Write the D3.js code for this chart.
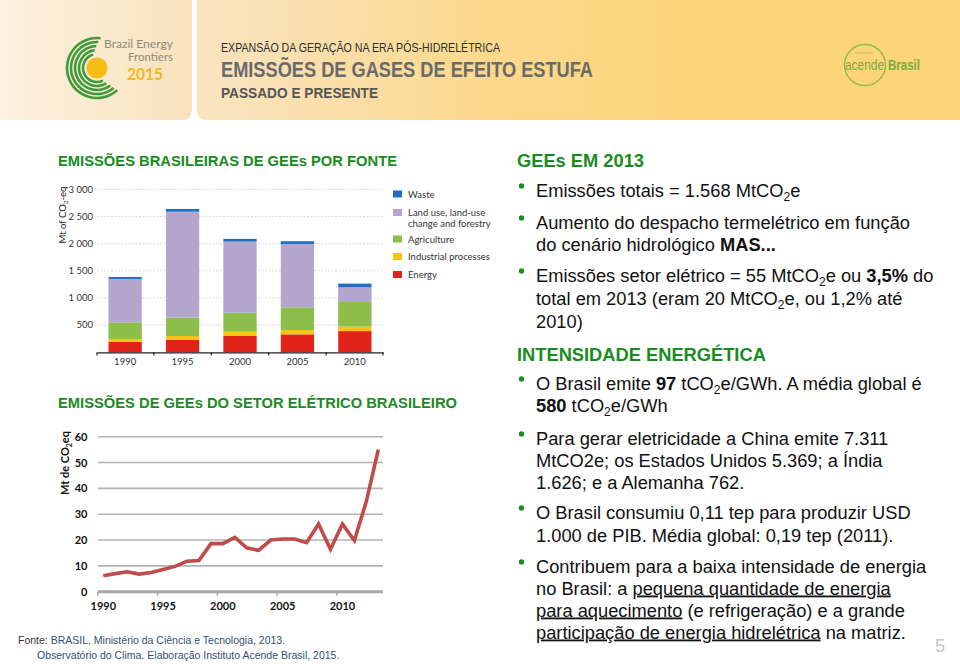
<!DOCTYPE html>
<html><head><meta charset="utf-8">
<script src="https://cdn.jsdelivr.net/npm/d3@7"></script>
<style>
html,body{margin:0;padding:0;background:#fff;}
svg{display:block;}
</style></head><body>
<svg id="slide" width="960" height="664"></svg>
<script>
// ---------- DATA ----------
const barYears = ["1990", "1995", "2000", "2005", "2010"];
const sectorKeys = ["energy", "industrial", "agriculture", "landUse", "waste"];
const sectorLabels = ["Energy", "Industrial processes", "Agriculture", "Land use, land-use|change and forestry", "Waste"];
const energy      = [195, 230, 300, 330, 390];
const industrial  = [50, 70, 80, 80, 82];
const agriculture = [307, 338, 350, 418, 454];
const landUse     = [798, 1950, 1307, 1166, 270];
const waste       = [37, 50, 50, 50, 68];
const barTicks = [500, 1000, 1500, 2000, 2500, 3000];
const barTickLabels = ["500", "1 000", "1 500", "2 000", "2 500", "3 000"];

const lineYears = [1990, 1991, 1992, 1993, 1994, 1995, 1996, 1997, 1998, 1999, 2000, 2001,
                   2002, 2003, 2004, 2005, 2006, 2007, 2008, 2009, 2010, 2011, 2012, 2013];
const elecEmissions = [6.2, 7.0, 7.7, 6.8, 7.4, 8.6, 9.8, 11.8, 12.1, 18.6, 18.6, 21.0,
                       17.0, 16.0, 20.0, 20.4, 20.4, 19.0, 26.2, 16.4, 26.2, 19.8, 35.0, 55.0];
const lineTicks = [0, 10, 20, 30, 40, 50, 60];
const lineYearLabels = [1990, 1995, 2000, 2005, 2010];

// ---------- STYLE ----------
const sectorColors = {energy: "#e2231a", industrial: "#f7c416", agriculture: "#8dbe4b", landUse: "#b3a6cc", waste: "#1f6ebf"};
const green = "#1a8c1f";
const SANS = "'Liberation Sans', Arial, Helvetica, sans-serif";
const NARROW = "'Liberation Sans Narrow', 'Liberation Sans', Arial, sans-serif";
const CAL = "Lato, 'Open Sans', sans-serif";

const svg = d3.select("#slide");
const defs = svg.append("defs");

// ---------- HEADER ----------
const g1 = defs.append("linearGradient").attr("id", "gL").attr("x1", 0).attr("x2", 1).attr("y1", 0).attr("y2", 0);
g1.append("stop").attr("offset", 0).attr("stop-color", "#fcf2e1");
g1.append("stop").attr("offset", 1).attr("stop-color", "#f8e2bc");
const g2 = defs.append("linearGradient").attr("id", "gR").attr("gradientUnits", "userSpaceOnUse")
  .attr("x1", 197).attr("x2", 700).attr("y1", 0).attr("y2", 0);
g2.append("stop").attr("offset", 0).attr("stop-color", "#f9e4c1");
g2.append("stop").attr("offset", 0.55).attr("stop-color", "#fcd98f");
g2.append("stop").attr("offset", 1).attr("stop-color", "#fdd478");

function roundedPath(x0, y0, x1, y1, rBL, rBR) {
  return `M${x0},${y0} H${x1} V${y1 - rBR} Q${x1},${y1} ${x1 - rBR},${y1} H${x0 + rBL} Q${x0},${y1} ${x0},${y1 - rBL} Z`;
}
svg.append("path").attr("d", roundedPath(0, 0, 192, 120, 0, 10)).attr("fill", "url(#gL)");
svg.append("path").attr("d", roundedPath(197, 0, 960, 120, 10, 0)).attr("fill", "url(#gR)");

// Brazil Energy Frontiers logo
const logo = svg.append("g").attr("transform", "translate(97,68)");
const arcSpecs = [[14, 2.7, 6.0], [18, 2.6, 6.15], [22, 2.5, 6.25], [26, 2.45, 6.33], [30, 2.4, 6.4]];
arcSpecs.forEach(([r, a0, a1]) => {
  logo.append("path").attr("d", d3.arc()({innerRadius: r - 1.3, outerRadius: r + 1.3, startAngle: a0, endAngle: a1}))
    .attr("fill", "#3f9a3c");
});
logo.append("circle").attr("r", 10.5).attr("fill", "#f6be14");
svg.append("text").attr("x", 173).attr("y", 48).attr("text-anchor", "end").attr("font-family", CAL)
  .attr("font-size", 11.5).attr("fill", "#8c8c7a").attr("textLength", 69).attr("lengthAdjust", "spacingAndGlyphs")
  .text("Brazil Energy");
svg.append("text").attr("x", 173).attr("y", 61).attr("text-anchor", "end").attr("font-family", CAL)
  .attr("font-size", 11.5).attr("fill", "#8c8c7a").attr("textLength", 45).attr("lengthAdjust", "spacingAndGlyphs")
  .text("Frontiers");
svg.append("text").attr("x", 127).attr("y", 80).attr("font-family", CAL).attr("font-weight", "bold")
  .attr("font-size", 17).attr("fill", "#f2b91c").attr("textLength", 36).attr("lengthAdjust", "spacingAndGlyphs").text("2015");

// Header titles
svg.append("text").attr("x", 221).attr("y", 52).attr("font-family", NARROW).attr("font-size", 13)
  .attr("fill", "#2e2e2e").attr("textLength", 279).attr("lengthAdjust", "spacingAndGlyphs")
  .text("EXPANSÃO DA GERAÇÃO NA ERA PÓS-HIDRELÉTRICA");
svg.append("text").attr("x", 221).attr("y", 77).attr("font-family", NARROW).attr("font-weight", "bold").attr("font-size", 22.5)
  .attr("fill", "#6a6a6a").attr("textLength", 372).attr("lengthAdjust", "spacingAndGlyphs")
  .text("EMISSÕES DE GASES DE EFEITO ESTUFA");
svg.append("text").attr("x", 221).attr("y", 97.5).attr("font-family", NARROW).attr("font-weight", "bold").attr("font-size", 15)
  .attr("fill", "#555").attr("textLength", 157).attr("lengthAdjust", "spacingAndGlyphs")
  .text("PASSADO E PRESENTE");

// Acende Brasil logo
svg.append("circle").attr("cx", 865).attr("cy", 65).attr("r", 20.5).attr("fill", "none")
  .attr("stroke", "#8dbb4f").attr("stroke-width", 1.4);
svg.append("text").attr("x", 864).attr("y", 53.5).attr("text-anchor", "middle").attr("font-family", CAL)
  .attr("font-size", 3.5).attr("fill", "#8dbb4f").attr("letter-spacing", 0.6).text("Instituto");
svg.append("text").attr("x", 845).attr("y", 70).attr("font-family", NARROW).attr("font-size", 14)
  .attr("fill", "#76ad3f").attr("textLength", 39).attr("lengthAdjust", "spacingAndGlyphs").text("acende");
svg.append("text").attr("x", 888).attr("y", 70).attr("font-family", NARROW).attr("font-weight", "bold").attr("font-size", 15.5)
  .attr("fill", "#76ad3f").attr("textLength", 32).attr("lengthAdjust", "spacingAndGlyphs").text("Brasil");

// ---------- LEFT SECTION TITLES ----------
svg.append("text").attr("x", 58).attr("y", 166).attr("font-family", SANS).attr("font-weight", "bold")
  .attr("font-size", 15).attr("fill", green).attr("textLength", 339).attr("lengthAdjust", "spacingAndGlyphs")
  .text("EMISSÕES BRASILEIRAS DE GEEs POR FONTE");
svg.append("text").attr("x", 58).attr("y", 408).attr("font-family", SANS).attr("font-weight", "bold")
  .attr("font-size", 15).attr("fill", green).attr("textLength", 399).attr("lengthAdjust", "spacingAndGlyphs")
  .text("EMISSÕES DE GEEs DO SETOR ELÉTRICO BRASILEIRO");

// ---------- BAR CHART ----------
const barData = barYears.map((y, i) => ({year: y, energy: energy[i], industrial: industrial[i],
  agriculture: agriculture[i], landUse: landUse[i], waste: waste[i]}));
const stacked = d3.stack().keys(sectorKeys)(barData);
const bx = d3.scaleBand().domain(barYears).range([97, 383]).paddingInner(0.42).paddingOuter(0.2);
const by = d3.scaleLinear().domain([0, 3000]).range([352.3, 189.3]);
const bc = svg.append("g");

bc.selectAll("line.grid").data(barTicks).join("line")
  .attr("x1", 97).attr("x2", 383).attr("y1", d => by(d)).attr("y2", d => by(d))
  .attr("stroke", "#cfcfcf").attr("stroke-width", 0.8).attr("stroke-dasharray", "2,1.5");
bc.selectAll("text.yt").data(barTicks).join("text")
  .attr("x", 93).attr("y", d => by(d) + 3.3).attr("text-anchor", "end")
  .attr("font-family", CAL).attr("font-size", 9.5).attr("fill", "#333")
  .text((d, i) => barTickLabels[i]);

stacked.forEach(layer => {
  bc.append("g").selectAll("rect").data(layer).join("rect")
    .attr("x", d => bx(d.data.year)).attr("width", bx.bandwidth())
    .attr("y", d => by(d[1])).attr("height", d => by(d[0]) - by(d[1]))
    .attr("fill", sectorColors[layer.key]);
});

const bxAxis = d3.axisBottom(bx).tickSize(0).tickPadding(6);
const bxg = bc.append("g").attr("transform", "translate(0,352.3)").call(bxAxis);
bxg.select(".domain").attr("stroke", "#222").attr("stroke-width", 1.3);
bxg.selectAll("text").attr("font-family", CAL).attr("font-size", 9.5).attr("fill", "#333");
const bounds = [97].concat(barYears.slice(1).map(y => bx(y) - bx.step() * bx.paddingInner() / 2)).concat([383]);
bc.selectAll("line.bt").data(bounds).join("line")
  .attr("x1", d => d).attr("x2", d => d).attr("y1", 352.3).attr("y2", 355.5)
  .attr("stroke", "#222").attr("stroke-width", 1.2);

bc.append("text").attr("transform", "translate(66,215) rotate(-90)").attr("text-anchor", "middle")
  .attr("font-family", CAL).attr("font-size", 9.5).attr("fill", "#222")
  .call(t => { t.append("tspan").text("Mt of CO");
               t.append("tspan").attr("font-size", 6.5).attr("dy", 2).text("2");
               t.append("tspan").attr("dy", -2).text("-eq"); });

const legendOrder = ["waste", "landUse", "agriculture", "industrial", "energy"];
const legendY = [190.5, 209, 235.5, 253, 271];
legendOrder.forEach((k, i) => {
  bc.append("rect").attr("x", 393).attr("y", legendY[i]).attr("width", 9).attr("height", 7)
    .attr("fill", sectorColors[k]);
  const lines = sectorLabels[sectorKeys.indexOf(k)].split("|");
  lines.forEach((ln, j) => {
    bc.append("text").attr("x", 408).attr("y", legendY[i] + 7 + j * 10.5)
      .attr("font-family", CAL).attr("font-size", 9.5).attr("fill", "#333").text(ln);
  });
});

// ---------- LINE CHART ----------
const lx = d3.scaleLinear().domain([1990, 2013]).range([103.3, 378.3]);
const ly = d3.scaleLinear().domain([0, 60]).range([591.7, 436.7]);
const lc = svg.append("g");
lc.selectAll("line.grid").data(lineTicks.filter(d => d > 0)).join("line")
  .attr("x1", 98).attr("x2", 383).attr("y1", d => ly(d)).attr("y2", d => ly(d))
  .attr("stroke", "#b3b3b3").attr("stroke-width", 1.6);
lc.append("line").attr("x1", 98).attr("x2", 383).attr("y1", ly(0)).attr("y2", ly(0))
  .attr("stroke", "#a6a6a6").attr("stroke-width", 3);
lc.selectAll("line.tk").data(lineYearLabels).join("line")
  .attr("x1", d => lx(d) - 5.5).attr("x2", d => lx(d) - 5.5).attr("y1", ly(0)).attr("y2", ly(0) + 4)
  .attr("stroke", "#a6a6a6").attr("stroke-width", 1.5);
lc.selectAll("text.yt").data(lineTicks).join("text")
  .attr("x", 87.5).attr("y", d => ly(d) + 4).attr("text-anchor", "end")
  .attr("font-family", CAL).attr("font-weight", "bold").attr("font-size", 11).attr("fill", "#111")
  .text(d => d);
lc.selectAll("text.xt").data(lineYearLabels).join("text")
  .attr("x", d => lx(d)).attr("y", 610).attr("text-anchor", "middle")
  .attr("font-family", CAL).attr("font-weight", "bold").attr("font-size", 11).attr("fill", "#111")
  .text(d => d);
lc.append("path").datum(lineYears.map((y, i) => [y, elecEmissions[i]]))
  .attr("d", d3.line().x(d => lx(d[0])).y(d => ly(d[1])))
  .attr("fill", "none").attr("stroke", "#bf4b4a").attr("stroke-width", 3.6).attr("stroke-linejoin", "miter");
lc.append("text").attr("transform", "translate(69,463) rotate(-90)").attr("text-anchor", "middle")
  .attr("font-family", CAL).attr("font-weight", "bold").attr("font-size", 11).attr("fill", "#111")
  .call(t => { t.append("tspan").text("Mt de CO");
               t.append("tspan").attr("font-size", 7).attr("dy", 2.5).text("2");
               t.append("tspan").attr("dy", -2.5).text("eq"); });

// ---------- SOURCE ----------
const src = svg.append("g").attr("font-family", SANS).attr("font-size", 10.5);
src.append("text").attr("x", 18).attr("y", 644)
  .call(t => { t.append("tspan").attr("fill", "#333").text("Fonte: ");
               t.append("tspan").attr("fill", "#34506e").text("BRASIL, Ministério da Ciência e Tecnologia, 2013."); });
src.append("text").attr("x", 37).attr("y", 659).attr("fill", "#34506e")
  .text("Observatório do Clima. Elaboração Instituto Acende Brasil, 2015.");

// ---------- RIGHT COLUMN ----------
const FS = 18.3;
function rich(x, y, segs, opts = {}) {
  const t = svg.append("text").attr("x", x).attr("y", y).attr("font-family", SANS)
    .attr("font-size", opts.size || FS).attr("fill", opts.fill || "#111");
  if (opts.bold) t.attr("font-weight", "bold");
  let shift = 0;
  segs.forEach(s => {
    if (typeof s === "string") s = {t: s};
    const target = s.sub ? FS * 0.22 : 0;
    const ts = t.append("tspan").text(s.t);
    if (target !== shift) { ts.attr("dy", target - shift); shift = target; }
    if (s.sub) ts.attr("font-size", FS * 0.66);
    if (s.b) ts.attr("font-weight", "bold");
    if (s.u) ts.style("text-decoration", "underline");
  });
  return t;
}
function bullet(y) {
  svg.append("circle").attr("cx", 521.5).attr("cy", y - 10.5).attr("r", 2.7).attr("fill", "#1d8f22");
}
const X = 536;
rich(517, 166.5, ["GEEs EM 2013"], {bold: true, fill: green});
bullet(196.5);
rich(X, 196.5, ["Emissões totais = 1.568 MtCO", {t: "2", sub: true}, "e"]);
bullet(228.5);
rich(X, 228.5, ["Aumento do despacho termelétrico em função"]);
rich(X, 250.5, ["do cenário hidrológico ", {t: "MAS...", b: true}]);
bullet(281.5);
rich(X, 281.5, ["Emissões setor elétrico = 55 MtCO", {t: "2", sub: true}, "e ou ", {t: "3,5%", b: true}, " do"]);
rich(X, 304.5, ["total em 2013 (eram 20 MtCO", {t: "2", sub: true}, "e, ou 1,2% até"]);
rich(X, 327.5, ["2010)"]);

rich(517, 360.5, ["INTENSIDADE ENERGÉTICA"], {bold: true, fill: green});
bullet(389.5);
rich(X, 389.5, ["O Brasil emite ", {t: "97", b: true}, " tCO", {t: "2", sub: true}, "e/GWh. A média global é"]);
rich(X, 411.5, [{t: "580", b: true}, " tCO", {t: "2", sub: true}, "e/GWh"]);
bullet(444.5);
rich(X, 444.5, ["Para gerar eletricidade a China emite 7.311"]);
rich(X, 466.5, ["MtCO2e; os Estados Unidos 5.369; a Índia"]);
rich(X, 488.5, ["1.626; e a Alemanha 762."]);
bullet(518.5);
rich(X, 518.5, ["O Brasil consumiu 0,11 tep para produzir USD"]);
rich(X, 541.5, ["1.000 de PIB. Média global: 0,19 tep (2011)."]);
bullet(572.5);
rich(X, 572.5, ["Contribuem para a baixa intensidade de energia"]);
rich(X, 594.5, ["no Brasil: a ", {t: "pequena quantidade de energia", u: true}]);
rich(X, 616.5, [{t: "para aquecimento", u: true}, " (e refrigeração) e a grande"]);
rich(X, 638.5, [{t: "participação de energia hidrelétrica", u: true}, " na matriz."]);

svg.append("text").attr("x", 945).attr("y", 652).attr("text-anchor", "end").attr("font-family", SANS)
  .attr("font-size", 18).attr("fill", "#c4c4c4").text("5");
</script>
</body></html>
